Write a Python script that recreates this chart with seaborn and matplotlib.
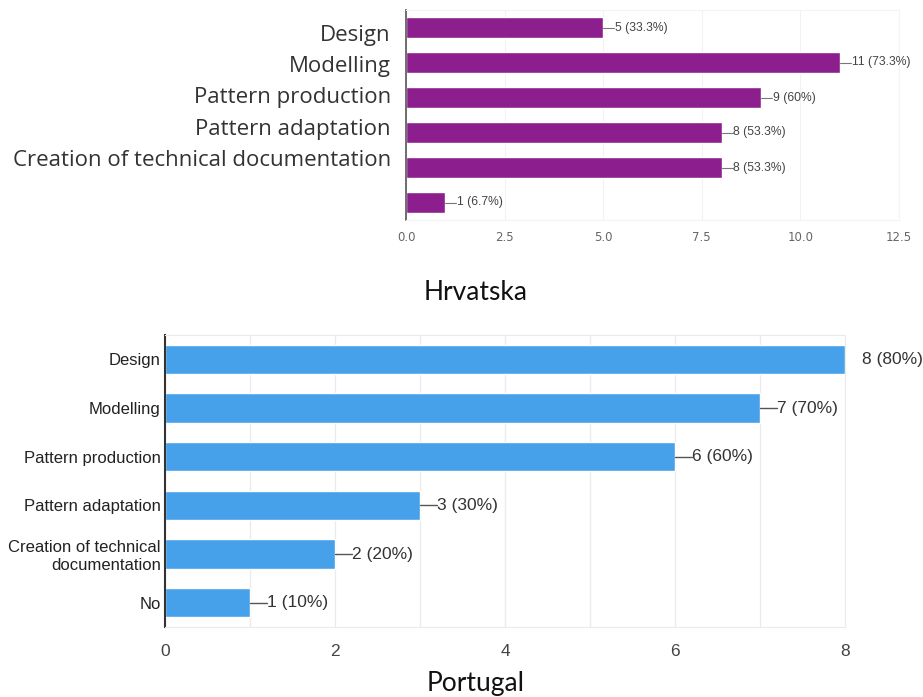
import matplotlib
matplotlib.use("Agg")
import matplotlib.pyplot as plt
import seaborn as sns
import numpy as np

# ---- data ----
categories = ["Design", "Modelling", "Pattern production", "Pattern adaptation",
              "Creation of technical documentation", "No"]
hr_values = [5, 11, 9, 8, 8, 1]
hr_total = 15
pt_values = [8, 7, 6, 3, 2, 1]
pt_total = 10
pt_tick_labels = ["Design", "Modelling", "Pattern production", "Pattern adaptation",
                  "Creation of technical\ndocumentation", "No"]
hr_title = "Hrvatska"
pt_title = "Portugal"

PURPLE = "#8d1e8d"
BLUE = "#46a1ea"

sns.set_style("white")
W, H = 923, 697
fig = plt.figure(figsize=(W / 100, H / 100), dpi=100)


def pct(v, n):
    s = f"{100 * v / n:.1f}".rstrip("0").rstrip(".")
    return f"{v} ({s}%)"


# ---------- top chart (Hrvatska) ----------
ax1 = fig.add_axes([406 / W, 1 - 220 / H, (899 - 406) / W, 210 / H])
sns.barplot(x=hr_values, y=categories, ax=ax1, color=PURPLE, saturation=1,
            width=0.6, orient="h")
ax1.set_xlim(0, 12.5)
ax1.set_ylim(5.5, -0.5)
ax1.set_xticks(np.arange(0, 12.6, 2.5))
ax1.set_xticklabels([f"{t:.1f}" for t in np.arange(0, 12.6, 2.5)])
ax1.set_yticks(range(len(categories)))
ax1.set_yticklabels([""] * len(categories))
ax1.tick_params(axis="both", length=0, labelsize=8.5, labelcolor="#666666", pad=8)
ax1.grid(axis="x", color="#f2f2f2", lw=0.8)
ax1.set_axisbelow(True)
for s in ["top", "right", "bottom"]:
    ax1.spines[s].set_color("#f4f4f4")
ax1.spines["left"].set_color("#555555")
ax1.spines["left"].set_linewidth(1.2)
ax1.set_xlabel("")
ax1.set_ylabel("")
for i, v in enumerate(hr_values):
    ax1.plot([v, v + 0.28], [i, i], color="#777777", lw=0.8, clip_on=True)
    ax1.text(v + 0.3, i, pct(v, hr_total), va="center", ha="left",
             fontsize=8.7, color="#444444", family="Liberation Sans")

# left labels (overlay, not aligned to bars; last one absent)
for i, c in enumerate(categories[:5]):
    fig.text(391 / W, 1 - (35 + i * 31.5) / H, c, ha="right", va="center",
             fontsize=16, color="#333333", family="Open Sans")

fig.text(476 / W, 1 - 293 / H, hr_title, ha="center", va="center",
         fontsize=19, color="#111111", family="Lato")

# ---------- bottom chart (Portugal) ----------
ax2 = fig.add_axes([165 / W, 1 - 627 / H, 680 / W, 292 / H])
sns.barplot(x=pt_values, y=categories, ax=ax2, color=BLUE, saturation=1,
            width=0.6, orient="h")
ax2.set_xlim(0, 8)
ax2.set_ylim(5.5, -0.5)
ax2.set_xticks(range(0, 9, 2))
ax2.set_xticks(range(0, 9, 1), minor=True)
ax2.set_yticks(range(len(categories)))
ax2.set_yticklabels(pt_tick_labels)
ax2.tick_params(axis="both", which="both", length=0)
ax2.tick_params(axis="x", labelsize=12.5, labelcolor="#444444", pad=12)
ax2.tick_params(axis="y", labelsize=12, labelcolor="#222222", pad=3)
for lab in ax2.get_xticklabels() + ax2.get_yticklabels():
    lab.set_family("Liberation Sans")
ax2.grid(axis="x", which="both", color="#ebebeb", lw=1)
ax2.set_axisbelow(True)
for s in ["top", "right", "bottom"]:
    ax2.spines[s].set_color("#ebebeb")
ax2.spines["left"].set_color("#333333")
ax2.spines["left"].set_linewidth(1.5)
ax2.set_xlabel("")
ax2.set_ylabel("")
for i, v in enumerate(pt_values):
    ax2.plot([v, v + 0.2], [i, i], color="#555555", lw=1, clip_on=True)
    ax2.text(v + 0.2, i, pct(v, pt_total), va="center", ha="left",
             fontsize=12.5, color="#333333", family="Liberation Sans")

fig.text(476 / W, 1 - 683 / H, pt_title, ha="center", va="center",
         fontsize=19, color="#111111", family="Lato")

fig.savefig("out.png", dpi=100)
